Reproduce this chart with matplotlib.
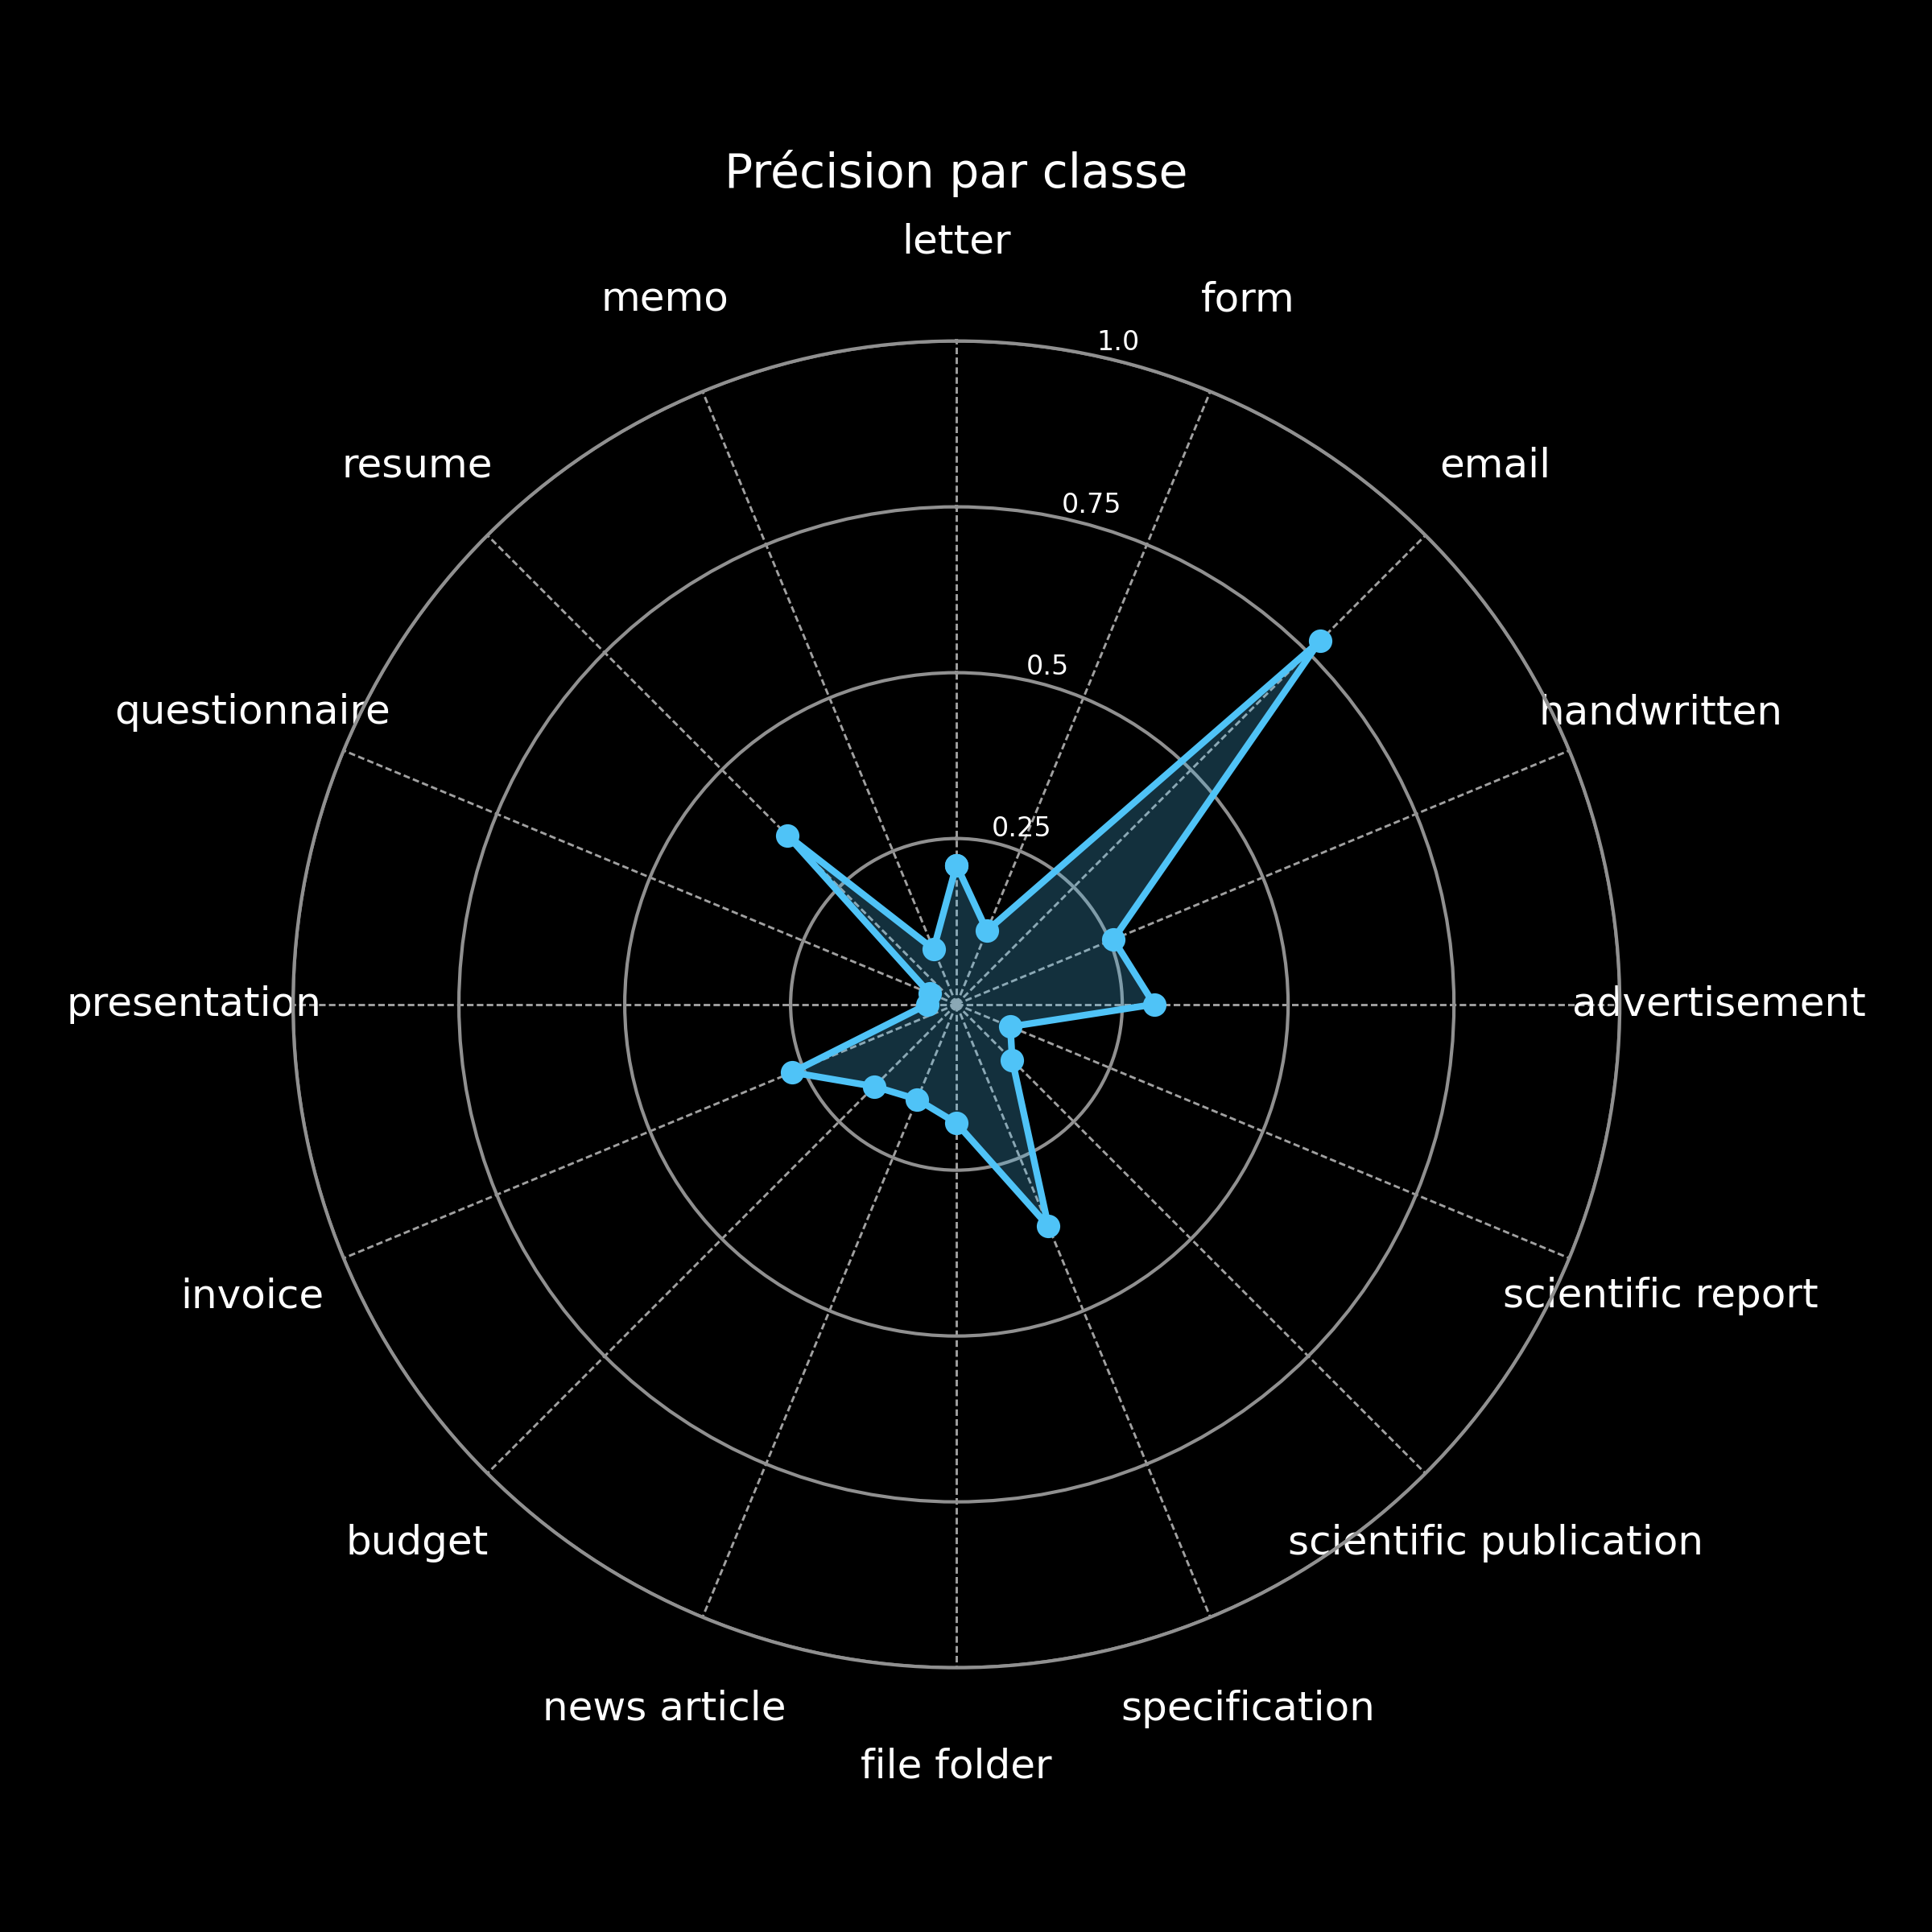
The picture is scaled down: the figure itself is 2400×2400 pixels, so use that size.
import numpy as np
import matplotlib
matplotlib.use("Agg")
import matplotlib.pyplot as plt

categories = ["letter", "form", "email", "handwritten", "advertisement",
              "scientific report", "scientific publication", "specification",
              "file folder", "news article", "budget", "invoice",
              "presentation", "questionnaire", "resume", "memo"]
precision = [0.21, 0.12, 0.775, 0.256, 0.298, 0.088, 0.119, 0.362,
             0.179, 0.155, 0.175, 0.268, 0.044, 0.044, 0.360, 0.090]
r_ticks = [0.25, 0.5, 0.75, 1.0]
r_tick_labels = ["0.25", "0.5", "0.75", "1.0"]
title = "Précision par classe"

line_color = "#4FC3F7"
circle_color = "#909090"
spoke_color = "#a0a0a0"

n = len(categories)
angles = np.linspace(0, 2 * np.pi, n, endpoint=False)
theta = np.concatenate([angles, angles[:1]])
vals = np.concatenate([precision, precision[:1]])

fig = plt.figure(figsize=(8, 8), dpi=300, facecolor="black")
ax = fig.add_axes([0.1517, 0.1368, 0.6867, 0.6867], projection="polar")
ax.set_facecolor("black")
ax.set_theta_offset(np.pi / 2)
ax.set_theta_direction(-1)

ax.fill(theta, vals, color=line_color, alpha=0.25, zorder=2)
ax.plot(theta, vals, "o-", color=line_color, linewidth=2, markersize=6, zorder=3)

ax.set_xticks(angles)
ax.set_xticklabels(categories, color="white", fontsize=12)
ax.tick_params(axis="x", pad=19)
ax.set_ylim(0, 1.0)
ax.set_yticks(r_ticks)
ax.set_yticklabels(r_tick_labels, color="white", fontsize=8)
ax.set_rlabel_position(12.2)

ax.yaxis.grid(True, color=circle_color, linestyle="-", linewidth=1.0)
ax.xaxis.grid(True, color=spoke_color, linestyle=(0, (2.8, 1.4)), linewidth=0.7)
ax.spines["polar"].set_visible(True)
ax.spines["polar"].set_color(circle_color)
ax.spines["polar"].set_linewidth(1.0)

ax.set_title(title, color="white", fontsize=14, pad=10.5)

fig.savefig("out.png", dpi=300, facecolor="black")
